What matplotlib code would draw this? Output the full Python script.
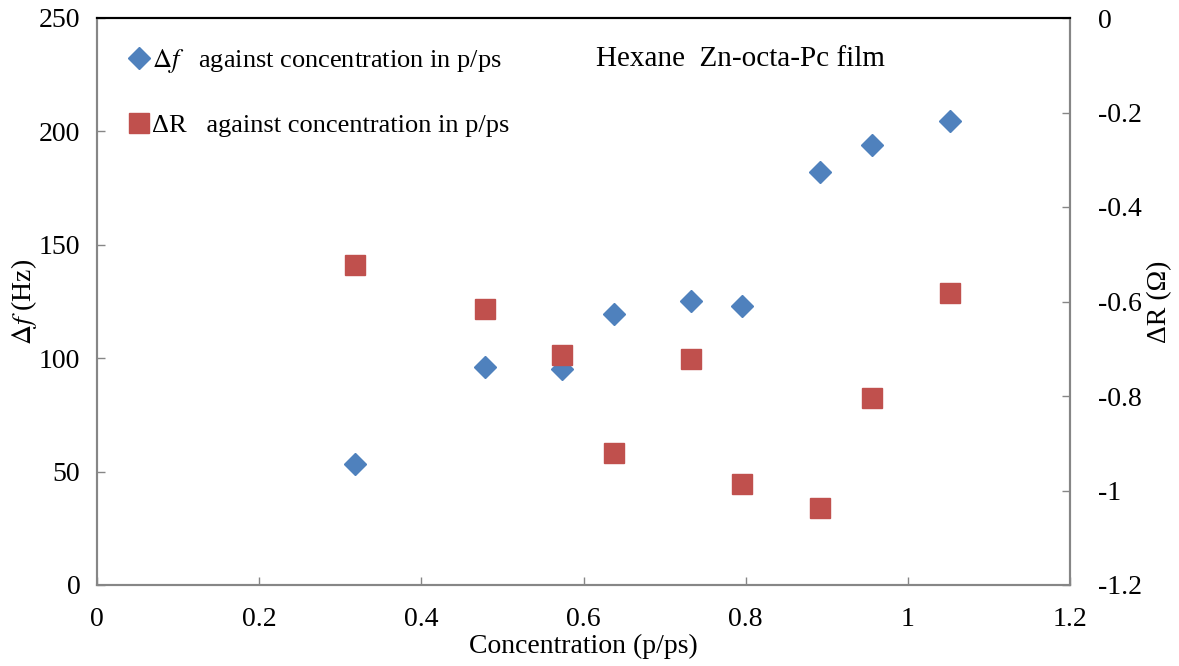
import matplotlib
matplotlib.use("Agg")
import matplotlib.pyplot as plt
from matplotlib.lines import Line2D

# concentration (p/ps) and the two responses
conc = [0.318, 0.479, 0.574, 0.638, 0.733, 0.796, 0.892, 0.956, 1.052]
delta_f = [53.3, 96.1, 95.2, 119.5, 125.2, 123.0, 182.1, 194.0, 204.6]
delta_r = [-0.523, -0.616, -0.713, -0.921, -0.722, -0.986, -1.037, -0.804, -0.582]

x_ticks = [0, 0.2, 0.4, 0.6, 0.8, 1.0, 1.2]
x_tick_labels = ["0", "0.2", "0.4", "0.6", "0.8", "1", "1.2"]
f_ticks = [0, 50, 100, 150, 200, 250]
r_ticks = [-1.2, -1.0, -0.8, -0.6, -0.4, -0.2, 0]
r_tick_labels = ["-1.2", "-1", "-0.8", "-0.6", "-0.4", "-0.2", "0"]

blue = "#4F81BD"
red = "#C0504D"
grey = "#868686"
fs = 20

plt.rcParams["font.family"] = ["Liberation Serif", "DejaVu Serif"]
plt.rcParams["mathtext.fontset"] = "stix"

fig = plt.figure(figsize=(11.79, 6.66), dpi=100)
ax = fig.add_axes([97 / 1179, 1 - 585 / 666, (1070 - 97) / 1179, (585 - 18) / 666])
ax2 = ax.twinx()

ax.plot(conc, delta_f, linestyle="none", marker="D", ms=11.5, color=blue, zorder=3)
ax2.plot(conc, delta_r, linestyle="none", marker="s", ms=14, color=red, zorder=3)

ax.set_xlim(0, 1.2)
ax.set_ylim(0, 250)
ax2.set_ylim(-1.2, 0)
ax.set_xticks(x_ticks)
ax.set_xticklabels(x_tick_labels)
ax.set_yticks(f_ticks)
ax2.set_yticks(r_ticks)
ax2.set_yticklabels(r_tick_labels)

for a in (ax, ax2):
    for side in ("left", "right", "bottom"):
        a.spines[side].set_color(grey)
        a.spines[side].set_linewidth(1.5)
    a.spines["top"].set_color("black")
    a.spines["top"].set_linewidth(1.5)
    a.tick_params(direction="in", length=6, color=grey, width=1, labelsize=fs)

ax.tick_params(axis="y", pad=12)
ax.tick_params(axis="x", pad=16)
ax2.tick_params(axis="y", pad=20)

ax.set_xlabel("Concentration (p/ps)", fontsize=fs, labelpad=1)
ax.set_ylabel(r"$\Delta f$ (Hz)", fontsize=fs, labelpad=0)
ax2.set_ylabel("ΔR (Ω)", fontsize=fs, labelpad=4)

handles = [
    Line2D([], [], linestyle="none", marker="D", ms=11.5, color=blue),
    Line2D([], [], linestyle="none", marker="s", ms=14, color=red),
]
labels = [r"$\Delta f$   against concentration in p/ps", "ΔR   against concentration in p/ps"]
ax.legend(handles, labels, loc="upper left", bbox_to_anchor=(0.008, 0.99), frameon=False,
          fontsize=19, handlelength=0.8, handletextpad=0.1, labelspacing=1.45)

ax.text(0.661, 0.928, "Hexane  Zn-octa-Pc film", transform=ax.transAxes, fontsize=21,
        ha="center", va="center")

fig.savefig("out.png", dpi=100)
